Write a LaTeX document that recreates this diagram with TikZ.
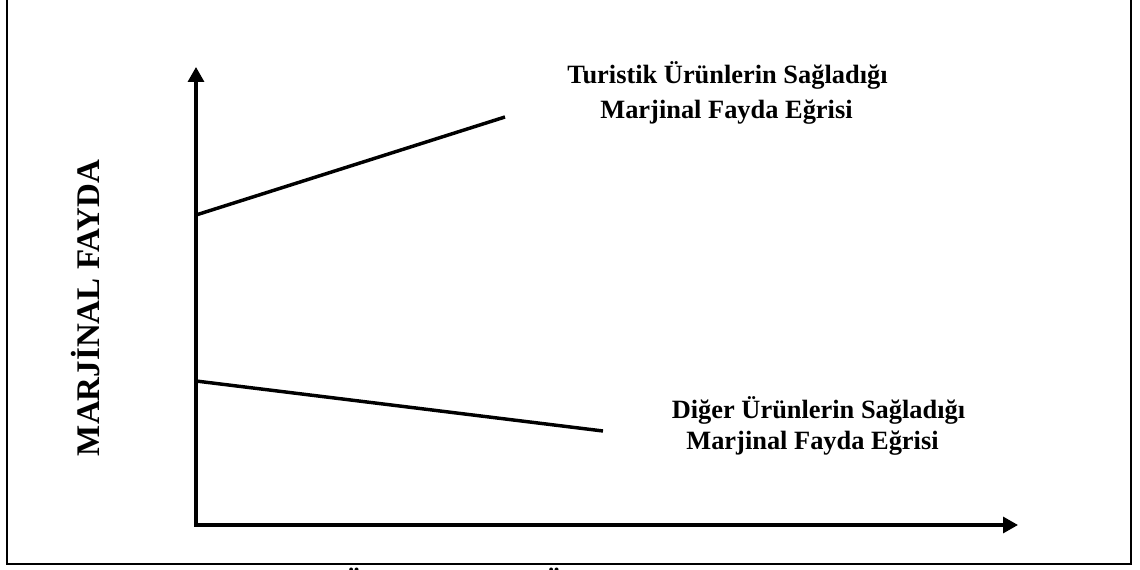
\documentclass[tikz,border=0pt]{standalone}
\usepackage{fontspec}
\setmainfont{Liberation Serif}
\usetikzlibrary{arrows.meta}
\begin{document}
\begin{tikzpicture}[x=0.75pt,y=-0.75pt,
  axes/.style={line width=2.5pt, line join=miter,
    {Triangle[length=11.25pt 0,width=12pt 0]}-{Triangle[length=11.25pt 0,width=12pt 0]}},
  curve/.style={line width=2.6pt},
  frame/.style={line width=1.9pt},
  lbl/.style={font=\fontsize{19.8}{24}\selectfont\bfseries, inner sep=0pt, anchor=base},
  ylbl/.style={font=\fontsize{24.75}{30}\selectfont\bfseries, rotate=90, inner sep=0pt},
  xlbl/.style={font=\fontsize{24.75}{30}\selectfont\bfseries, inner sep=0pt, anchor=base}]
\useasboundingbox (0,0) rectangle (1140,570);
\clip (0,0) rectangle (1140,570);

% outer frame (its top edge lies above the page)
\draw[frame] (7,-10) rectangle (1131,564);

% axes
\coordinate (O) at (196,525);
\coordinate (ytop) at (196,67);
\coordinate (xend) at (1018,525);
\draw[axes] (ytop) -- (O) -- (xend);

% marginal utility curves
\coordinate (t1) at (196,215);
\coordinate (t2) at (505,117);
\draw[curve] (t1) -- (t2);
\coordinate (d1) at (196,381);
\coordinate (d2) at (603,431);
\draw[curve] (d1) -- (d2);

% labels
\node[lbl] (tA) at (727.5,84) {Turistik Ürünlerin Sağladığı};
\node[lbl] (tB) at (726.5,119) {Marjinal Fayda Eğrisi};
\node[lbl] (dA) at (818.5,419) {Diğer Ürünlerin Sağladığı};
\node[lbl] (dB) at (812.5,450) {Marjinal Fayda Eğrisi};
\node[ylbl] (ylabel) at (86,308) {MARJİNAL FAYDA};

% letters of the caption below, cut by the page edge
\node[xlbl] (u1) at (353,595) {Ü};
\node[xlbl] (u2) at (553,595) {Ü};
\end{tikzpicture}
\end{document}
